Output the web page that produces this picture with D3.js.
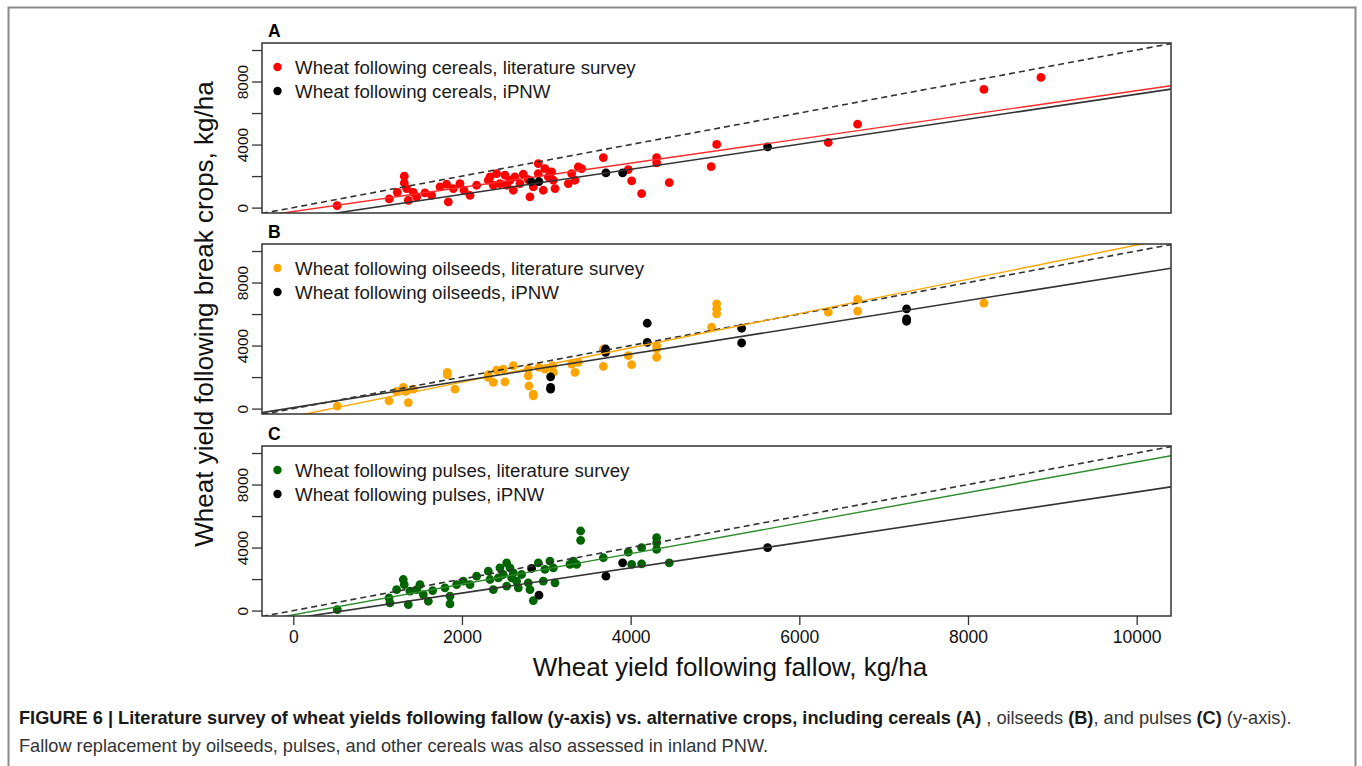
<!DOCTYPE html>
<html>
<head>
<meta charset="utf-8">
<script src="https://cdn.jsdelivr.net/npm/d3@7"></script>
<style>
  body { margin: 0; background: #fff; }
  svg { display: block; }
</style>
</head>
<body>
<script>
// ---- data (kg/ha): [yield after fallow, yield after break crop] ----
const cerealsLit = [
  [520,130],[1138,550],[1233,970],[1316,1990],[1316,1566],[1344,1206],[1364,463],[1423,970],
  [1463,676],[1561,930],[1640,780],[1740,1310],[1818,1480],[1838,360],[1897,1206],[1976,1524],
  [2024,1100],[2095,780],[2174,1418],[2312,1736],[2332,1948],[2372,1418],[2411,2160],[2450,1524],
  [2510,2054],[2530,1418],[2569,1736],[2609,1100],[2628,1948],[2688,1524],[2727,2117],[2786,1778],
  [2806,676],[2846,1310],[2905,2795],[2905,2160],[2964,1100],[2984,2477],[3024,1948],[3063,2265],
  [3103,1206],[3083,1736],[3261,1524],[3300,2160],[3340,1736],[3379,2583],[3419,2477],[3676,3177],
  [3972,2414],[4012,1694],[4130,888],[4308,3177],[4308,2838],[4458,1588],[4955,2600],[5020,4010],
  [6343,4130],[6691,5296],[8189,7500],[8865,8262]
];
const cerealsPNW = [[2818,1651],[2913,1651],[3707,2202],[3905,2202],[5624,3855]];

const oilseedsLit = [
  [522,151],[1135,491],[1225,1086],[1304,1340],[1332,1086],[1364,385],[1423,1234],[1826,2295],
  [1826,2147],[1917,1234],[2312,2147],[2312,1977],[2372,1659],[2411,2444],[2490,2508],[2510,1701],
  [2609,2720],[2786,2508],[2786,2083],[2794,1446],[2846,916],[2846,810],[2913,2614],[2984,2508],
  [3075,2720],[3083,2295],[3300,2826],[3340,2295],[3379,2932],[3676,3781],[3676,2678],[3972,3357],
  [4012,2784],[4308,3994],[4308,3251],[4308,3781],[4960,5162],[5020,6648],[5020,6329],[5020,6011],
  [6343,6117],[6691,6924],[6691,6181],[8189,6690]
];
const oilseedsPNW = [
  [3051,2019],[3051,1340],[3051,1234],[3703,3781],[3703,3569],[4197,5416],[4197,4206],
  [5316,5098],[5316,4164],[7272,6329],[7272,5692],[7272,5544]
];

const pulsesLit = [
  [522,62],[1135,805],[1146,487],[1225,1336],[1304,1973],[1316,1654],[1364,381],[1384,1230],
  [1463,1336],[1502,1654],[1542,1018],[1601,593],[1652,1272],[1798,1442],[1858,912],[1858,423],
  [1937,1654],[2016,1867],[2095,1654],[2174,2185],[2312,2504],[2332,1973],[2372,1336],[2431,2079],
  [2450,2716],[2490,2291],[2530,3034],[2530,1548],[2569,2716],[2589,2079],[2609,2398],[2648,1867],
  [2668,1442],[2707,2291],[2786,1761],[2806,1336],[2846,636],[2905,3034],[2964,1867],[2984,2610],
  [3043,3141],[3083,2716],[3103,1761],[3280,2928],[3320,3141],[3359,2928],[3407,5051],[3407,4457],
  [3676,3353],[3972,3714],[4012,2928],[4130,2971],[4130,3990],[4308,4627],[4308,4308],[4308,3884],
  [4458,3034]
];
const pulsesPNW = [[2826,2673],[2913,975],[3707,2185],[3905,3034],[5624,3990]];

// fitted lines: [intercept, slope]
const fitLit = [[-249, 0.767], [-494, 1.0875], [-267, 0.970]];
const fitPNW = [[-748, 0.7945], [60, 0.85], [-495, 0.802]];

const panelLetters = ["A", "B", "C"];
const legendLit = [
  "Wheat following cereals, literature survey",
  "Wheat following oilseeds, literature survey",
  "Wheat following pulses, literature survey"
];
const legendPNW = [
  "Wheat following cereals, iPNW",
  "Wheat following oilseeds, iPNW",
  "Wheat following pulses, iPNW"
];
const litColors = ["#ff0000", "#ffa500", "#006400"];
const litLineColors = ["#ff2a2a", "#ffa500", "#2e8b2e"];

const xTicks = [0, 2000, 4000, 6000, 8000, 10000];
const yTicks = [0, 2000, 4000, 6000, 8000, 10000];
const yTickLabels = [0, 4000, 8000];

// ---- layout ----
const W = 1362, H = 766;
const plotLeft = 262, plotRight = 1171;
const panelTops = [43, 244, 446];
const panelH = 170;
const font = "Liberation Sans, Arial, Helvetica, sans-serif";

const svg = d3.select("body").append("svg")
  .attr("width", W).attr("height", H)
  .style("font-family", font);

// outer figure frame
svg.append("path")
  .attr("d", `M8.5,${H} V7.5 H1355.5 V${H}`)
  .attr("fill", "none").attr("stroke", "#8a8a8a").attr("stroke-width", 2);

const x = d3.scaleLinear().domain([-371, 10407]).range([plotLeft, plotRight]);
const yDomain = [-343, 10445];

const panelData = [
  [cerealsLit, cerealsPNW],
  [oilseedsLit, oilseedsPNW],
  [pulsesLit, pulsesPNW]
];

panelData.forEach(([lit, pnw], i) => {
  const top = panelTops[i];
  const y = d3.scaleLinear().domain(yDomain).range([top + panelH, top]);
  const g = svg.append("g");

  const clipId = "clip" + i;
  g.append("clipPath").attr("id", clipId)
    .append("rect").attr("x", plotLeft).attr("y", top)
    .attr("width", plotRight - plotLeft).attr("height", panelH);

  // y axis: ticks every 2000, labels on alternate ticks, written along the axis
  const yAxis = d3.axisLeft(y).tickValues(yTicks).tickSize(10).tickPadding(7)
    .tickFormat(d => yTickLabels.includes(d) ? String(d) : "");
  const ya = g.append("g").attr("transform", `translate(${plotLeft},0)`).call(yAxis);
  ya.select(".domain").remove();
  ya.selectAll(".tick line").attr("stroke", "#333").attr("stroke-width", 1.3);
  ya.selectAll(".tick text")
    .attr("font-size", 15.5).attr("fill", "#111")
    .attr("x", 0).attr("y", 0).attr("dy", null)
    .attr("text-anchor", "middle")
    .attr("dominant-baseline", "central")
    .attr("transform", "translate(-20,0) rotate(-90)");

  // points
  const pts = g.append("g").attr("clip-path", `url(#${clipId})`);
  pts.selectAll("circle.lit").data(lit).join("circle")
    .attr("class", "lit")
    .attr("cx", d => x(d[0])).attr("cy", d => y(d[1])).attr("r", 4.4)
    .attr("fill", litColors[i]);
  pts.selectAll("circle.pnw").data(pnw).join("circle")
    .attr("class", "pnw")
    .attr("cx", d => x(d[0])).attr("cy", d => y(d[1])).attr("r", 4.4)
    .attr("fill", "#000");

  // reference 1:1 line and fitted lines
  const xd = x.domain();
  const lineGen = (a, b) => d3.line()(xd.map(v => [x(v), y(a + b * v)]));
  pts.append("path").attr("d", lineGen(0, 1))
    .attr("fill", "none").attr("stroke", "#333").attr("stroke-width", 1.6)
    .attr("stroke-dasharray", "6,4");
  pts.append("path").attr("d", lineGen(fitLit[i][0], fitLit[i][1]))
    .attr("fill", "none").attr("stroke", litLineColors[i]).attr("stroke-width", 1.4);
  pts.append("path").attr("d", lineGen(fitPNW[i][0], fitPNW[i][1]))
    .attr("fill", "none").attr("stroke", "#333").attr("stroke-width", 1.6);

  // frame
  g.append("rect").attr("x", plotLeft).attr("y", top)
    .attr("width", plotRight - plotLeft).attr("height", panelH)
    .attr("fill", "none").attr("stroke", "#333").attr("stroke-width", 1.5);

  // panel letter
  g.append("text").attr("x", 268).attr("y", top - 6)
    .attr("font-size", 17.5).attr("font-weight", "bold").attr("fill", "#000")
    .text(panelLetters[i]);

  // legend
  const leg = [[legendLit[i], litColors[i]], [legendPNW[i], "#000"]];
  leg.forEach(([label, col], k) => {
    const cy = top + 24 + k * 24;
    g.append("circle").attr("cx", 277.5).attr("cy", cy).attr("r", 4.2).attr("fill", col);
    g.append("text").attr("x", 295).attr("y", cy)
      .attr("dominant-baseline", "central")
      .attr("font-size", 18.7).attr("fill", "#1a1a1a").text(label);
  });

  // x axis only under the bottom panel
  if (i === 2) {
    const xAxis = d3.axisBottom(x).tickValues(xTicks).tickSize(9).tickPadding(6)
      .tickFormat(d3.format("d"));
    const xa = g.append("g").attr("transform", `translate(0,${top + panelH})`).call(xAxis);
    xa.select(".domain").remove();
    xa.selectAll(".tick line").attr("stroke", "#333").attr("stroke-width", 1.3);
    xa.selectAll(".tick text").attr("font-size", 17.5).attr("fill", "#111");
  }
});

// axis titles
svg.append("text")
  .attr("x", 730).attr("y", 676)
  .attr("text-anchor", "middle").attr("font-size", 26).attr("fill", "#111")
  .text("Wheat yield following fallow, kg/ha");
svg.append("text")
  .attr("transform", "translate(213,314) rotate(-90)")
  .attr("text-anchor", "middle").attr("font-size", 26).attr("fill", "#111")
  .text("Wheat yield following break crops, kg/ha");

// caption
const cap1 = [
  ["FIGURE 6 | Literature survey of wheat yields following fallow (y-axis) vs. alternative crops, including cereals (A)", true],
  [" , oilseeds ", false], ["(B)", true], [", and pulses ", false], ["(C)", true], [" (y-axis).", false]
];
const capText = svg.append("text").attr("x", 19).attr("y", 724)
  .attr("font-size", 18.2).attr("fill", "#222");
cap1.forEach(([t, b]) => {
  capText.append("tspan").attr("font-weight", b ? "bold" : "normal")
    .attr("fill", b ? "#1a1a1a" : "#333").text(t);
});
svg.append("text").attr("x", 19).attr("y", 752)
  .attr("font-size", 18.2).attr("fill", "#333")
  .text("Fallow replacement by oilseeds, pulses, and other cereals was also assessed in inland PNW.");
</script>
</body>
</html>
